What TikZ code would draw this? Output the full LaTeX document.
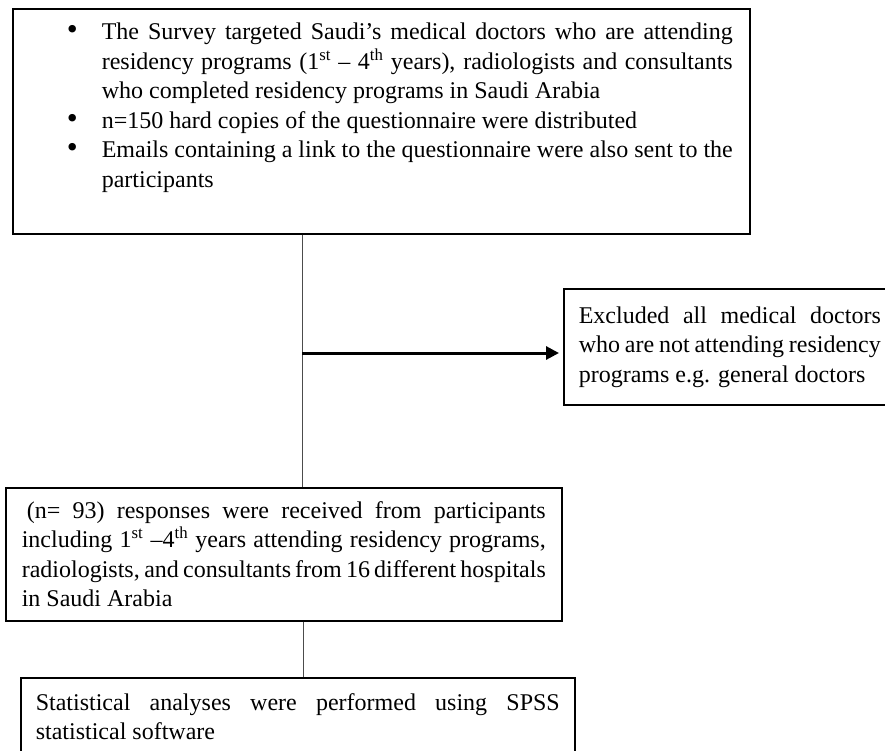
\documentclass[tikz,border=0pt]{standalone}
\usepackage{fontspec}
\setmainfont{Liberation Serif}
\usepackage{enumitem}
\usetikzlibrary{arrows.meta}

\tikzset{
  box/.style={draw, line width=1.6pt, anchor=north west, inner ysep=0pt,
    align=justify, font=\fontsize{24}{29.5}\selectfont},
  link/.style={line width=1pt, gray!60!black},
  pointer/.style={line width=3pt, -{Triangle[length=13pt,width=13pt]}}
}
\newcommand{\padbelow}[1]{\par\vspace{#1}\nointerlineskip\hbox{}}

\begin{document}
\begin{tikzpicture}[x=1pt,y=-1pt]
\useasboundingbox (0,0) rectangle (885,750);

% Survey box
\node[box, inner xsep=0pt, text width=737pt, minimum height=225pt] (surv) at (12,8) {%
  \begin{itemize}[label={\scalebox{1.3}{\textbullet}}, leftmargin=89pt, rightmargin=17pt,
      labelsep=24pt, topsep=0pt, partopsep=0pt, itemsep=0pt, parsep=0pt]
  \item The Survey targeted Saudi’s medical doctors who are attending\linebreak
    residency programs (1\textsuperscript{st} -- 4\textsuperscript{th} years), radiologists and consultants\linebreak
    who completed residency programs in Saudi Arabia
  \item n=150 hard copies of the questionnaire were distributed
  \item Emails containing a link to the questionnaire were also sent to the\linebreak
    participants
  \end{itemize}\padbelow{40pt}};

% Exclusion box
\node[box, inner xsep=15pt, text width=302pt, minimum height=116pt] (excl) at (563,288)
  {Excluded all medical doctors\linebreak who are not attending residency\linebreak programs e.g. general doctors};

% Responses box
\node[box, inner xsep=16pt, text width=524pt, minimum height=133pt] (resp) at (5,487)
  {\hspace{5pt}(n= 93) responses were received from participants\linebreak
   including 1\textsuperscript{st} --4\textsuperscript{th} years attending residency programs,\linebreak
   radiologists, and consultants from 16 different hospitals\linebreak
   in Saudi Arabia};

% Analysis box
\node[box, inner xsep=15pt, text width=524pt, minimum height=100pt] (stat) at (20,677)
  {Statistical analyses were performed using SPSS\linebreak statistical software\padbelow{22pt}};

% Connectors
\coordinate (fork) at (302,353);
\draw[link] (surv.south -| fork) -- (resp.north -| fork);
\draw[pointer, shorten >=4pt] (fork) -- (excl.west |- fork);
\coordinate (stem) at (303,650);
\draw[link] (resp.south -| stem) -- (stat.north -| stem);
\end{tikzpicture}
\end{document}
